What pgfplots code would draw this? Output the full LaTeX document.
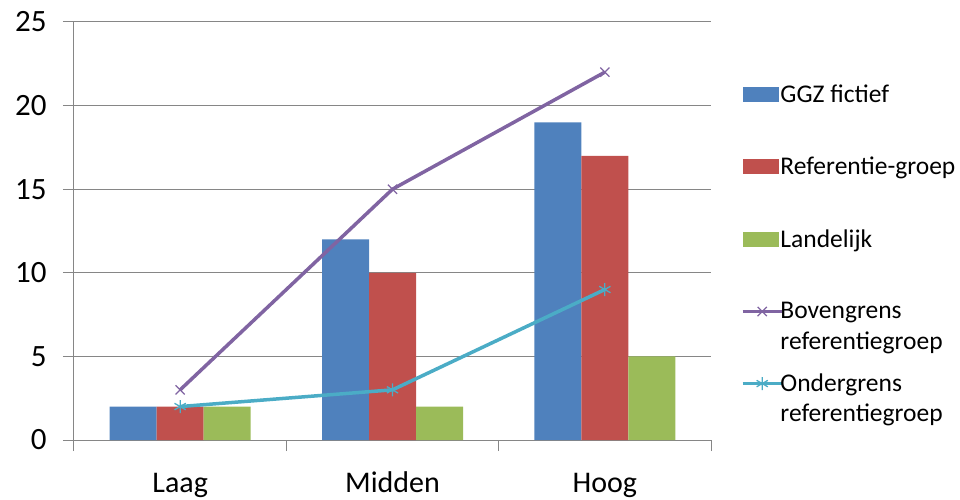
\documentclass[border=0pt]{standalone}
\usepackage{fontspec}
\setmainfont{Carlito}
\usepackage{pgfplots}
\pgfplotsset{compat=1.18}

\definecolor{cblue}{HTML}{4F81BD}
\definecolor{cred}{HTML}{C0504D}
\definecolor{cgreen}{HTML}{9BBB59}
\definecolor{cpurple}{HTML}{8064A2}
\definecolor{ccyan}{HTML}{4BACC6}
\definecolor{cgrid}{HTML}{868686}

% legend images sit on the first line of a two-line entry
\pgfplotsset{
  barleg/.style={legend image code/.code={%
    \fill[##1] (0pt,7.5pt) rectangle (36pt,22.5pt);
    \path (0pt,-22.5pt);}},
  lineleg/.style={legend image code/.code={%
    \draw[##1, mark repeat=2, mark phase=2] plot coordinates {(0pt,15pt) (19.5pt,15pt) (39pt,15pt)};
    \path (0pt,-22pt) (0pt,22pt);}},
}

\begin{document}
\begin{tikzpicture}
\useasboundingbox (-74pt,-60pt) rectangle (886pt,440pt);
\begin{axis}[
  scale only axis, width=637pt, height=418pt,
  at={(0,0)}, anchor=south west,
  xmin=-0.5, xmax=2.5, ymin=0, ymax=25,
  axis x line*=bottom, axis y line*=left,
  axis line style={draw=cgrid, line width=1pt},
  ytick={0,5,...,25}, ymajorgrids,
  grid style={draw=cgrid, line width=1pt},
  tick style={draw=cgrid, line width=1pt},
  tick align=outside, major tick length=11pt,
  xtick={-0.5,0.5,1.5,2.5}, xticklabels={},
  extra x ticks={0,1,2},
  extra x tick labels={Laag,Midden,Hoog},
  extra x tick style={major tick length=0pt, xticklabel style={anchor=base, yshift=-52pt}},
  xticklabel style={font=\fontsize{30}{36}\selectfont},
  yticklabel style={font=\fontsize{31}{36}\selectfont, xshift=-13pt},
  /pgf/number format/assume math mode=true,
  legend style={draw=none, fill=none, at={(1.042,0.856)}, anchor=north west,
    font=\fontsize{25.5}{30.5}\selectfont, row sep=23pt, column sep=-3pt,
    nodes={align=left, inner sep=0pt}},
  legend cell align=left,
]
\addplot[ybar, bar width=47pt, bar shift=-47pt, fill=cblue, draw=none, barleg]
  coordinates {(0,2) (1,12) (2,19)};
\addlegendentry{GGZ fictief\\\strut}
\addplot[ybar, bar width=47pt, bar shift=0pt, fill=cred, draw=none, barleg]
  coordinates {(0,2) (1,10) (2,17)};
\addlegendentry{Referentie-groep\\\strut}
\addplot[ybar, bar width=47pt, bar shift=47pt, fill=cgreen, draw=none, barleg]
  coordinates {(0,2) (1,2) (2,5)};
\addlegendentry{Landelijk\\\strut}
\addplot[sharp plot, color=cpurple, line width=3.5pt, mark=x, mark size=6.5pt,
  mark options={line width=1.3pt}, lineleg]
  coordinates {(0,3) (1,15) (2,22)};
\addlegendentry{Bovengrens\\referentiegroep\strut}
\addplot[sharp plot, color=ccyan, line width=3.5pt, mark=asterisk, mark size=6.5pt,
  mark options={line width=1.3pt}, lineleg]
  coordinates {(0,2) (1,3) (2,9)};
\addlegendentry{Ondergrens\\referentiegroep\strut}
\end{axis}
\end{tikzpicture}
\end{document}
